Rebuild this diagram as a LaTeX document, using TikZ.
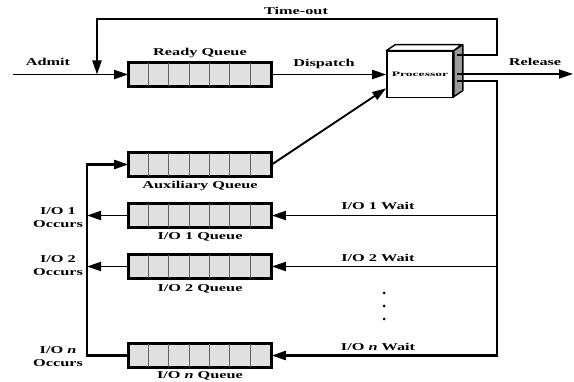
\documentclass[tikz,border=0pt]{standalone}
\usepackage{fontspec}
\setmainfont{Liberation Serif}[FakeStretch=1.55]
\newfontfamily\procfont{Liberation Serif}[FakeStretch=2.0]
\usetikzlibrary{arrows.meta,calc}
\definecolor{qgray}{HTML}{E0E0E0}
\definecolor{sidegray}{HTML}{9A9A9A}
\newcommand\qcells[1]{%
  \foreach \k in {1,...,6}{%
    \draw[gray!75!black,line width=0.7pt] ($(#1.south west)+(\k*20.29,0)$) -- ($(#1.north west)+(\k*20.29,0)$);
  }%
  \draw[line width=1.6pt] (#1.south west) rectangle (#1.north east);
}
\begin{document}
\begin{tikzpicture}[x=1pt,y=-1pt,
  conn/.style={line width=1.9pt},
  arr/.style={conn,-{Triangle[length=14pt,width=9pt]}},
  queue/.style={draw,line width=1.6pt,fill=qgray,minimum width=142pt,minimum height=23pt,inner sep=0pt},
  lbl/.style={font=\fontsize{10.5}{13}\selectfont\bfseries,inner sep=0pt,align=center},
]
\useasboundingbox (0,0) rectangle (574,382);

% queues
\node[queue] (rq) at (200,74.5) {};
\node[queue] (aux) at (200,164.5) {};
\node[queue] (io1) at (200,215.5) {};
\node[queue] (io2) at (200,266.5) {};
\node[queue] (ion) at (200,355.5) {};
\qcells{rq}\qcells{aux}\qcells{io1}\qcells{io2}\qcells{ion}

% processor
\node[draw,line width=1.6pt,fill=white,minimum width=66pt,minimum height=46pt,inner sep=0pt] (proc) at (420,74.5)
  {\procfont\bfseries\fontsize{6.8}{7}\selectfont Processor};
\draw[line width=1.4pt,fill=white,line join=round] (proc.north west) -- ++(9,-6) -- ++(66,0) -- (proc.north east) -- cycle;
\draw[line width=1.4pt,fill=sidegray,line join=round] (proc.north east) -- ++(9,-6) -- ++(0,46) -- ++(-9,6) -- cycle;

% coordinates
\coordinate (admit0) at (13,74.5);
\coordinate (pt) at ($(proc.east)+(3,-19.5)$);
\coordinate (pr) at ($(proc.east)+(3,-0.5)$);
\coordinate (pio) at ($(proc.east)+(3,6.5)$);
\coordinate (relend) at (573,74);
\coordinate (tr) at (497,19);
\coordinate (tl) at (97,19);
\coordinate (tj) at (97,74.5);
\coordinate (rb) at (497,355.5);
\coordinate (lb) at (87,355.5);

% connectors
\draw[arr] (admit0) -- (rq.west);
\draw[arr,line join=miter] (pt) -| (tr) -- (tl) -- (tj);
\draw[arr] (rq.east) -- (proc.west);
\draw[arr] (pr) -- (relend);
\draw[arr] (aux.east) -- ($(proc.south west)+(0,-10)$);
\draw[arr,line width=2.2pt] (pio) -| (rb) -- (ion.east);
\draw[arr] (io1.east -| rb) -- (io1.east);
\draw[arr] (io2.east -| rb) -- (io2.east);
\draw[arr,line width=2.2pt] (ion.west) -- (lb) |- (aux.west);
\draw[arr] (io1.west) -- (io1.west -| lb);
\draw[arr] (io2.west) -- (io2.west -| lb);

% labels
\node[lbl] (ladmit) at (48,62) {Admit};
\node[lbl] (lrq) at (200,53) {Ready Queue};
\node[lbl] (ltime) at (296,11) {Time-out};
\node[lbl] (ldisp) at (324,64) {Dispatch};
\node[lbl] (lrel) at (535,62) {Release};
\node[lbl] (laux) at (200,186) {Auxiliary Queue};
\node[lbl] (lq1) at (200,236.5) {I/O 1 Queue};
\node[lbl] (lq2) at (200,288.5) {I/O 2 Queue};
\node[lbl] (lqn) at (200,375.5) {I/O \textit{n} Queue};
\node[lbl] (lw1) at (378,206) {I/O 1 Wait};
\node[lbl] (lw2) at (378,258) {I/O 2 Wait};
\node[lbl] (lwn) at (378,347) {I/O \textit{n} Wait};
\node[lbl] (lo1) at (58,218) {I/O 1\\Occurs};
\node[lbl] (lo2) at (58,265.5) {I/O 2\\Occurs};
\node[lbl] (lon) at (58,356.5) {I/O \textit{n}\\Occurs};
\foreach \yy in {293,306,319} \fill (384,\yy) circle (1.5pt);
\end{tikzpicture}
\end{document}
